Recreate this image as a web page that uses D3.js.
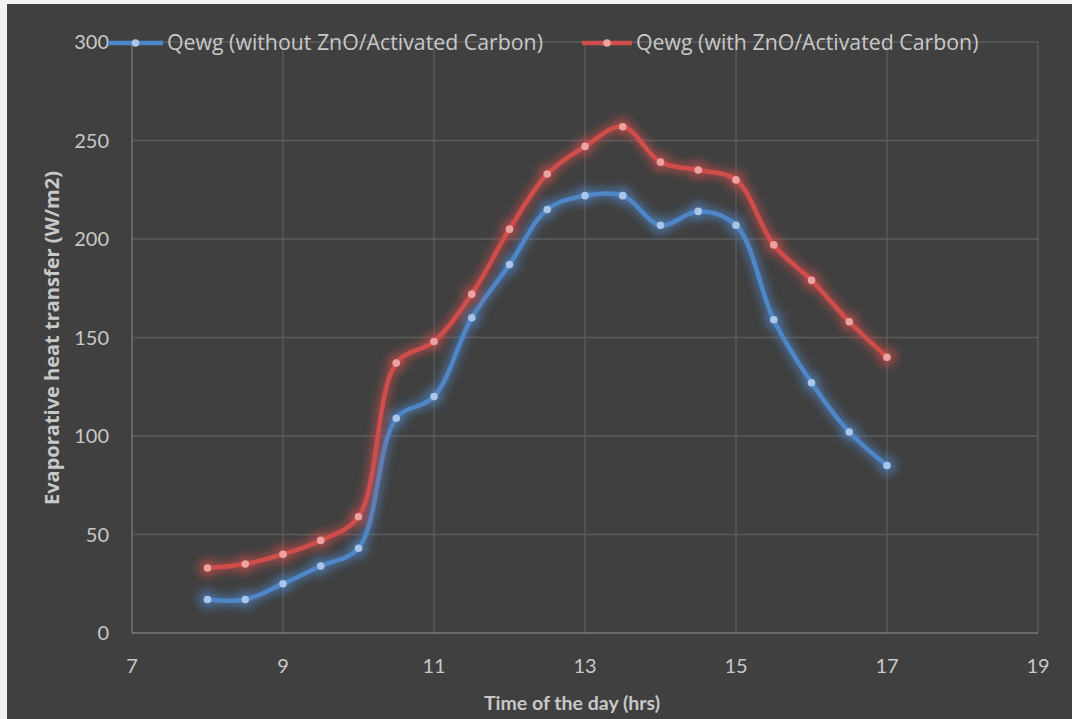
<!DOCTYPE html>
<html>
<head>
<meta charset="utf-8">
<script src="https://cdn.jsdelivr.net/npm/d3@7"></script>
<style>
  html, body { margin: 0; padding: 0; background: #ffffff; }
  svg { display: block; }
</style>
</head>
<body>
<div id="chart"></div>
<script>
// data
const hours = [8, 8.5, 9, 9.5, 10, 10.5, 11, 11.5, 12, 12.5, 13, 13.5, 14, 14.5, 15, 15.5, 16, 16.5, 17]
const withoutZnO = [17, 17, 25, 34, 43, 109, 120, 160, 187, 215, 222, 222, 207, 214, 207, 159, 127, 102, 85]
const withZnO = [33, 35, 40, 47, 59, 137, 148, 172, 205, 233, 247, 257, 239, 235, 230, 197, 179, 158, 140]
const xTicks = [7, 9, 11, 13, 15, 17, 19]
const yTicks = [0, 50, 100, 150, 200, 250, 300]
const seriesNames = ["Qewg (without ZnO/Activated Carbon)", "Qewg (with ZnO/Activated Carbon)"]

const W = 1072, H = 719
const font = "Lato, 'Open Sans', sans-serif"
const wideFont = "'Open Sans', Lato, sans-serif"
const textColor = "#c8c8c8"

const series = [
  { name: seriesNames[0], values: withoutZnO, color: "#4f86c8", marker: "#a9c6ea", id: "glowBlue" },
  { name: seriesNames[1], values: withZnO, color: "#cf4e4b", marker: "#eba3a2", id: "glowRed" },
]

const svg = d3.select("#chart").append("svg")
  .attr("width", W)
  .attr("height", H)

// white frame on the top/left edge like the screenshot
svg.append("rect").attr("width", W).attr("height", H).attr("fill", "#f2f2f2")
svg.append("rect")
  .attr("x", 7).attr("y", 4)
  .attr("width", W - 7).attr("height", H - 4)
  .attr("fill", "#404040")

const defs = svg.append("defs")
series.forEach(s => {
  const f = defs.append("filter")
    .attr("id", s.id)
    .attr("x", "-20%").attr("y", "-20%")
    .attr("width", "140%").attr("height", "140%")
  f.append("feGaussianBlur").attr("stdDeviation", 5)
})

const x = d3.scaleLinear().domain([7, 19]).range([132, 1038])
const y = d3.scaleLinear().domain([0, 300]).range([633, 42])

// gridlines
const grid = svg.append("g").attr("class", "grid")
grid.selectAll("line.h")
  .data(yTicks.slice(1))
  .enter().append("line")
  .attr("class", "h")
  .attr("x1", x(7)).attr("x2", x(19))
  .attr("y1", d => y(d)).attr("y2", d => y(d))
  .attr("stroke", "#5c5c5c").attr("stroke-width", 1.3)
grid.selectAll("line.v")
  .data(xTicks.slice(1))
  .enter().append("line")
  .attr("class", "v")
  .attr("y1", y(0)).attr("y2", y(300))
  .attr("x1", d => x(d)).attr("x2", d => x(d))
  .attr("stroke", "#5c5c5c").attr("stroke-width", 1.3)

// axis lines
svg.append("line")
  .attr("x1", x(7)).attr("x2", x(19))
  .attr("y1", y(0)).attr("y2", y(0))
  .attr("stroke", "#7a7a7a").attr("stroke-width", 1.3)
svg.append("line")
  .attr("x1", x(7)).attr("x2", x(7))
  .attr("y1", y(0)).attr("y2", y(300))
  .attr("stroke", "#7a7a7a").attr("stroke-width", 1.3)

// tick labels
svg.append("g")
  .selectAll("text")
  .data(yTicks)
  .enter().append("text")
  .attr("x", 109)
  .attr("y", d => y(d))
  .attr("dy", "0.35em")
  .attr("text-anchor", "end")
  .style("font-family", font)
  .style("font-size", "20px")
  .style("fill", textColor)
  .text(d => d)

svg.append("g")
  .selectAll("text")
  .data(xTicks)
  .enter().append("text")
  .attr("x", d => x(d))
  .attr("y", 666)
  .attr("dy", "0.35em")
  .attr("text-anchor", "middle")
  .style("font-family", font)
  .style("font-size", "20px")
  .style("fill", textColor)
  .text(d => d)

// axis titles
svg.append("text")
  .attr("x", 572).attr("y", 703)
  .attr("dy", "0.35em")
  .attr("text-anchor", "middle")
  .style("font-family", font)
  .style("font-size", "19.5px")
  .style("font-weight", "bold")
  .style("fill", textColor)
  .text("Time of the day (hrs)")

svg.append("text")
  .attr("transform", "translate(52, 338) rotate(-90)")
  .attr("dy", "0.35em")
  .attr("text-anchor", "middle")
  .style("font-family", wideFont)
  .style("font-size", "20px")
  .style("font-weight", "bold")
  .style("fill", textColor)
  .text("Evaporative heat transfer (W/m2)")

// lines
const line = d3.line()
  .x((d, i) => x(hours[i]))
  .y(d => y(d))
  .curve(d3.curveCatmullRom.alpha(0.5))

series.forEach(s => {
  const g = svg.append("g").attr("class", "series")

  // glow
  const glow = g.append("g").attr("filter", `url(#${s.id})`).attr("opacity", 0.7)
  glow.append("path")
    .attr("d", line(s.values))
    .attr("fill", "none")
    .attr("stroke", s.color)
    .attr("stroke-width", 9)
  glow.selectAll("circle")
    .data(s.values)
    .enter().append("circle")
    .attr("cx", (d, i) => x(hours[i]))
    .attr("cy", d => y(d))
    .attr("r", 9)
    .attr("fill", s.color)

  g.append("path")
    .attr("d", line(s.values))
    .attr("fill", "none")
    .attr("stroke", s.color)
    .attr("stroke-width", 4.5)
    .attr("stroke-linecap", "round")

  g.selectAll("circle.pt")
    .data(s.values)
    .enter().append("circle")
    .attr("class", "pt")
    .attr("cx", (d, i) => x(hours[i]))
    .attr("cy", d => y(d))
    .attr("r", 3.8)
    .attr("fill", s.marker)
})

// legend
const legendPos = [{ x0: 108, x1: 163, tx: 167 }, { x0: 582, x1: 632, tx: 636 }]
const legend = svg.append("g").attr("class", "legend")
series.forEach((s, i) => {
  const p = legendPos[i]
  legend.append("line")
    .attr("x1", p.x0).attr("x2", p.x1)
    .attr("y1", 43).attr("y2", 43)
    .attr("stroke", s.color)
    .attr("stroke-width", 4.5)
  legend.append("circle")
    .attr("cx", (p.x0 + p.x1) / 2).attr("cy", 43)
    .attr("r", 3.8)
    .attr("fill", s.marker)
  legend.append("text")
    .attr("x", p.tx).attr("y", 43)
    .attr("dy", "0.35em")
    .style("font-family", wideFont)
    .style("font-size", "21.3px")
    .style("fill", textColor)
    .text(s.name)
})
</script>
</body>
</html>
